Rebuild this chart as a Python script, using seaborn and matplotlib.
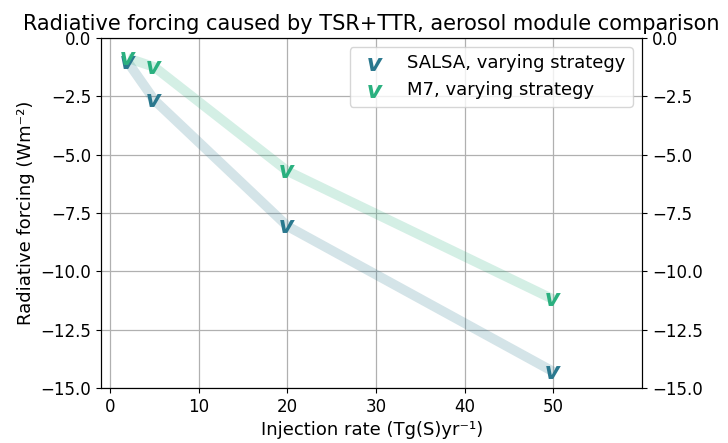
import matplotlib
matplotlib.use("Agg")
import matplotlib.pyplot as plt
import seaborn as sns
import pandas as pd

plt.rcParams['font.family'] = ['DejaVu Sans']

injection = [2, 5, 20, 50]
salsa_rf = [-1.03, -2.66, -8.06, -14.3]
m7_rf = [-0.86, -1.24, -5.7, -11.2]
series_names = ["SALSA, varying strategy", "M7, varying strategy"]
series_colors = ["#2a788e", "#2ab07f"]
yticks = [0.0, -2.5, -5.0, -7.5, -10.0, -12.5, -15.0]
xticks = [0, 10, 20, 30, 40, 50]

df = pd.concat([
    pd.DataFrame({"x": injection, "y": salsa_rf, "s": series_names[0]}),
    pd.DataFrame({"x": injection, "y": m7_rf, "s": series_names[1]}),
])

fig = plt.figure(figsize=(7.28, 4.43), dpi=100)
ax = fig.add_axes([0.139, 0.124, 0.743, 0.790])

for name, col in zip(series_names, series_colors):
    sub = df[df.s == name]
    sns.lineplot(data=sub, x="x", y="y", ax=ax, color=col, alpha=0.2,
                 linewidth=7, legend=False, solid_capstyle="butt")
    sns.scatterplot(data=sub, x="x", y="y", ax=ax, color=col,
                    marker=r"$\mathbfit{v}$", s=110, linewidth=0, label=name,
                    zorder=5)

ax.set_xlim(-1, 60)
ax.set_ylim(-15, 0)
ax.set_xticks(xticks)
ax.set_yticks(yticks)
ax.grid(True, color="#b0b0b0", linewidth=0.9)
ax.set_axisbelow(True)
ax.tick_params(labelsize=12)
ax.set_xlabel("Injection rate (Tg(S)yr⁻¹)", fontsize=13)
ax.set_ylabel("Radiative forcing (Wm⁻²)", fontsize=13)
ax.set_title("Radiative forcing caused by TSR+TTR, aerosol module comparison",
             fontsize=15)

ax2 = ax.twinx()
ax2.set_ylim(-15, 0)
ax2.set_yticks(yticks)
ax2.tick_params(labelsize=12)

ax.legend(loc="upper right", fontsize=13, framealpha=0.8)

fig.savefig("out.png", dpi=100)
